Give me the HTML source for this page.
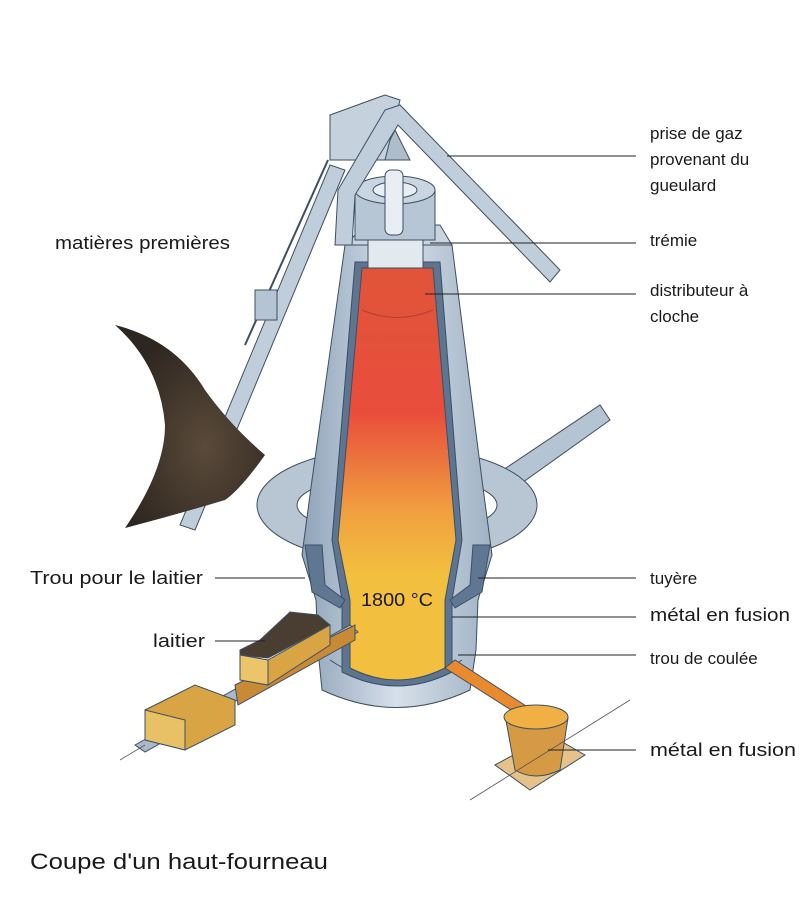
<!DOCTYPE html>
<html><head><meta charset="utf-8"><style>
body{margin:0;background:#fff;width:801px;height:897px;overflow:hidden}
svg{display:block}
text{font-family:"Liberation Sans",sans-serif;font-size:17px;fill:#1a1a1a}
</style></head><body>
<svg width="801" height="897" viewBox="0 0 801 897" xmlns="http://www.w3.org/2000/svg">
<defs>
<linearGradient id="core" x1="0" y1="0" x2="0" y2="1">
<stop offset="0" stop-color="#e0553a"/><stop offset="0.35" stop-color="#e94d3c"/>
<stop offset="0.6" stop-color="#f0a23f"/><stop offset="0.75" stop-color="#f2c03e"/><stop offset="1" stop-color="#f2c03e"/></linearGradient>
<linearGradient id="steel" x1="0" y1="0" x2="1" y2="0">
<stop offset="0" stop-color="#8fa3b8"/><stop offset="0.5" stop-color="#d6e0ea"/><stop offset="1" stop-color="#9fb1c3"/></linearGradient>
<radialGradient id="ore" cx="0.6" cy="0.6" r="0.6"><stop offset="0" stop-color="#5a4a3a"/><stop offset="1" stop-color="#2e2620"/></radialGradient>
</defs>
<g stroke="#3d4f62" stroke-width="1">
<path d="M488 480 L600 405 L610 420 L498 500 Z" fill="#b5c4d3"/>
<ellipse cx="397" cy="505" rx="140" ry="58" fill="#b8c6d4"/>
<ellipse cx="397" cy="505" rx="100" ry="30" fill="#fff"/>
<path d="M345 245 L452 245 L482 480 L492 555 L478 600 L476 650 L470 690 Q397 725 322 690 L318 650 L316 600 L302 555 L312 480 Z" fill="url(#steel)"/>
<path d="M330 660 Q397 705 462 660" fill="none"/>
<path d="M355 262 L440 262 L462 540 L452 600 L452 672 Q397 700 342 672 L342 600 L332 540 Z" fill="#5d7590"/>
<path d="M362 268 L433 268 L456 540 L445 600 L445 668 Q397 692 350 668 L350 600 L338 540 Z" fill="url(#core)"/>
<path d="M362 310 Q397 325 433 310" fill="none" stroke="#b04030"/>
<path d="M305 545 L322 545 L325 585 L345 600 L340 608 L312 592 Z" fill="#5f7793"/>
<path d="M490 545 L473 545 L470 585 L450 600 L455 608 L482 592 Z" fill="#5f7793"/>
<path d="M345 245 L365 225 L440 225 L452 245 Z" fill="#c8d4df"/>
<rect x="368" y="240" width="55" height="28" fill="#e2e9ef"/>
<rect x="355" y="190" width="80" height="50" fill="#b7c6d4"/>
<ellipse cx="395" cy="190" rx="40" ry="14" fill="#c9d5e0"/>
<ellipse cx="395" cy="190" rx="22" ry="8" fill="#e8eef3"/>
<rect x="385" y="170" width="18" height="65" rx="6" fill="#e8eef3"/>
<path d="M380 160 L395 130 L410 160 Z" fill="#aebdcc"/>
<path d="M330 115 L385 95 L400 100 L385 160 L330 160 Z" fill="#c5d2de"/>
<path d="M335 245 L338 190 L385 110 L400 105 L560 270 L550 282 L398 125 L355 195 L352 245 Z" fill="#c0cedb"/>
<path d="M180 525 L330 165 L345 170 L195 530 Z" fill="#c0cedb"/>
<path d="M245 345 L328 160" stroke-width="2" fill="none"/>
<rect x="255" y="290" width="22" height="30" fill="#b5c4d3"/>
</g>
<path d="M115 325 Q175 340 205 390 Q230 425 265 455 Q240 490 225 500 Q175 515 125 528 Q165 470 165 425 Q160 365 115 325 Z" fill="url(#ore)"/>
<g stroke="#3d4f62" stroke-width="1">
<path d="M135 745 L350 625 L358 632 L145 752 Z" fill="#a9b9c9"/>
<path d="M235 685 L355 625 L355 640 L238 705 Z" fill="#c98a35"/>
<path d="M145 710 L195 685 L235 700 L235 725 L185 750 L145 740 Z" fill="#d9a544"/>
<path d="M145 710 L185 720 L185 750 L145 740 Z" fill="#e8c066"/>
<path d="M240 650 L260 640 L290 612 L318 615 L330 625 L268 658 L240 655 Z" fill="#4a3d31"/>
<path d="M240 655 L268 660 L330 625 L330 645 L268 685 L240 680 Z" fill="#d9a544"/>
<path d="M240 655 L268 660 L268 685 L240 680 Z" fill="#ecc46a"/>
<path d="M445 668 L455 660 L540 715 L530 722 Z" fill="#e98a2e"/>
<path d="M495 765 L550 735 L585 755 L530 790 Z" fill="#e5c28a"/>
<path d="M505 715 Q538 700 568 718 L560 770 Q535 782 515 770 Z" fill="#d69a45"/>
<ellipse cx="536" cy="717" rx="32" ry="12" fill="#f0b044"/>
</g>
<g stroke="#555" stroke-width="0.8">
<line x1="470" y1="800" x2="630" y2="700"/>
<line x1="120" y1="760" x2="145" y2="745"/>
</g>
<g stroke="#222" stroke-width="1">
<line x1="447" y1="156" x2="636" y2="156"/>
<line x1="430" y1="243" x2="636" y2="243"/>
<line x1="425" y1="294" x2="636" y2="294"/>
<line x1="215" y1="578" x2="305" y2="578"/>
<line x1="478" y1="578" x2="636" y2="578"/>
<line x1="452" y1="617" x2="636" y2="617"/>
<line x1="458" y1="655" x2="636" y2="655"/>
<line x1="215" y1="641" x2="265" y2="641"/>
<line x1="548" y1="750" x2="636" y2="750"/>
</g>
<text x="650" y="139">prise de gaz</text>
<text x="650" y="165">provenant du</text>
<text x="650" y="191">gueulard</text>
<text x="650" y="246">trémie</text>
<text x="650" y="296">distributeur à</text>
<text x="650" y="322">cloche</text>
<text x="55" y="249" textLength="175" lengthAdjust="spacingAndGlyphs" style="font-size:18px">matières premières</text>
<text x="30" y="584" textLength="173" lengthAdjust="spacingAndGlyphs" style="font-size:18px">Trou pour le laitier</text>
<text x="650" y="584">tuyère</text>
<text x="650" y="621" textLength="140" lengthAdjust="spacingAndGlyphs" style="font-size:18px">métal en fusion</text>
<text x="650" y="664">trou de coulée</text>
<text x="153" y="647" textLength="52" lengthAdjust="spacingAndGlyphs" style="font-size:18px">laitier</text>
<text x="650" y="756" textLength="146" lengthAdjust="spacingAndGlyphs" style="font-size:18px">métal en fusion</text>
<text x="361" y="606" textLength="72" lengthAdjust="spacingAndGlyphs" style="font-size:18px">1800 °C</text>
<text x="30" y="869" textLength="298" lengthAdjust="spacingAndGlyphs" style="font-size:22px">Coupe d'un haut-fourneau</text>
</svg>
</body></html>
